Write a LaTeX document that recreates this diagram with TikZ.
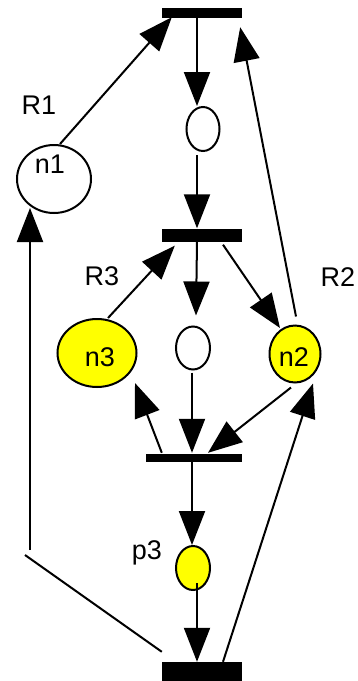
\documentclass[tikz,border=0pt]{standalone}
\usepackage{fontspec}
\setmainfont{Liberation Sans}
\usetikzlibrary{arrows.meta,calc,shapes.geometric}
\definecolor{ylw}{RGB}{255,255,0}
\begin{document}
\begin{tikzpicture}[x=1pt,y=-1pt,
  trans/.style={fill=black,draw=none,inner sep=0pt,minimum width=80pt},
  place/.style={ellipse,draw=black,line width=2pt,inner sep=0pt},
  arr/.style={line width=2pt,-{Triangle[length=34pt,width=26pt]}},
  ln/.style={line width=2pt},
  lbl/.style={font=\fontsize{27}{29}\selectfont,inner sep=0pt}]
\useasboundingbox (0,0) rectangle (358,681);
% transitions
\node[trans,minimum height=10pt] (T1) at (202,13) {};
\node[trans,minimum height=13pt] (T2) at (202,235) {};
\node[trans,minimum width=96pt,minimum height=8pt] (T3) at (194,458) {};
\node[trans,minimum height=19pt] (T4) at (202,671.5) {};
% places
\node[place,fill=white,minimum width=33pt,minimum height=44pt] (P1) at (203,129) {};
\node[place,fill=white,minimum width=74pt,minimum height=68pt] (n1) at (54,179) {};
\node[place,fill=ylw,minimum width=79pt,minimum height=68pt] (n3) at (97,353) {};
\node[place,fill=white,minimum width=34pt,minimum height=43pt] (P2) at (193,348) {};
\node[place,fill=ylw,minimum width=51pt,minimum height=57pt] (n2) at (295,354) {};
\node[place,fill=ylw,minimum width=34pt,minimum height=44pt] (p3) at (193,568) {};
% texts
\node[lbl] (n1t) at (50,164) {n1};
\node[lbl] (n3t) at (100,357) {n3};
\node[lbl] (n2t) at (294,357) {n2};
\node[lbl] (p3t) at (147,553) {p3};
\node[lbl] (R1) at (39,105) {R1};
\node[lbl] (R2) at (338,277) {R2};
\node[lbl] (R3) at (102,276) {R3};
% coordinates for broken connector
\coordinate (c1) at (25,555);
\coordinate (c2) at (30,550);
% arcs
\draw[arr] ($(n1.north)+(6,0)$) -- ($(T1.south west)+(10,-1)$);
\draw[arr] ($(T1.south)+(-5,0)$) -- ($(P1.north)+(-6,0)$);
\draw[arr] ($(P1.south)+(-6,3)$) -- ($(T2.north)+(-5,0)$);
\draw[arr] ($(T2.south)+(-5,0)$) -- ($(P2.north)+(3,-10)$);
\draw[arr] ($(T2.south)+(21,3)$) -- ($(n2.center)+(-15,-26)$);
\draw[arr] ($(n2.north)+(1,-8)$) -- ($(T1.south east)+(-2,9)$);
\draw[arr] ($(n3.north)+(11,0)$) -- ($(T2.south west)+(13,4)$);
\draw[arr] ($(T3.north west)+(16,-1)$) -- ($(n3.center)+(38,30)$);
\draw[arr] ($(P2.south)+(-1,2)$) -- ($(T3.north)+(-2,-1)$);
\draw[arr] ($(n2.south)+(-4,4)$) -- ($(T3.north)+(14,-1)$);
\draw[arr] ($(T4.north)+(21,0)$) -- ($(n2.south)+(18,0)$);
\draw[arr] ($(T3.south)+(-2,0)$) -- ($(p3.north)+(-1,0)$);
\draw[arr] ($(p3.center)+(4,15)$) -- ($(T4.north)+(-5,0)$);
\draw[ln] ($(T4.north west)+(0,-10)$) -- (c1);
\draw[arr] (c2) -- ($(n1.center)+(-24,29)$);
\end{tikzpicture}
\end{document}
